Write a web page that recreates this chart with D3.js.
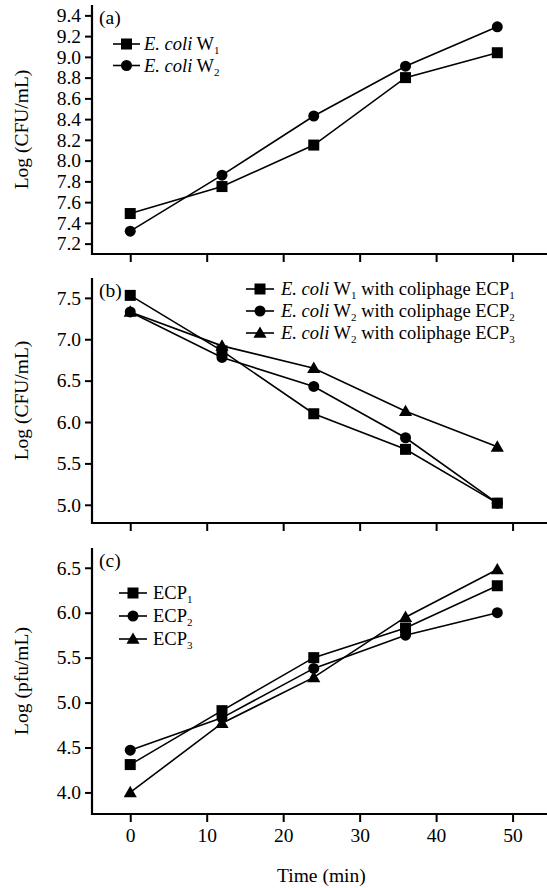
<!DOCTYPE html>
<html>
<head>
<meta charset="utf-8">
<script src="https://cdn.jsdelivr.net/npm/d3@7"></script>
<style>
  body { margin: 0; background: #fff; }
  svg text { font-family: "Liberation Serif", "Times New Roman", serif; fill: #000; }
</style>
</head>
<body>
<div id="graphContainer"></div>
<script>
// sampling times (min)
const times = [0, 12, 24, 36, 48];
const xTicks = [0, 10, 20, 30, 40, 50];

// (a) host growth
const aW1 = [7.49, 7.75, 8.15, 8.80, 9.04];
const aW2 = [7.32, 7.86, 8.43, 8.91, 9.29];
const aTicks = [7.2, 7.4, 7.6, 7.8, 8.0, 8.2, 8.4, 8.6, 8.8, 9.0, 9.2, 9.4];

// (b) host with coliphage
const bW1ECP1 = [7.53, 6.86, 6.10, 5.67, 5.02];
const bW2ECP2 = [7.33, 6.78, 6.43, 5.81, 5.02];
const bW2ECP3 = [7.33, 6.92, 6.65, 6.13, 5.70];
const bTicks = [5.0, 5.5, 6.0, 6.5, 7.0, 7.5];

// (c) phage titre
const cECP1 = [4.31, 4.91, 5.50, 5.83, 6.30];
const cECP2 = [4.47, 4.83, 5.38, 5.75, 6.00];
const cECP3 = [4.00, 4.77, 5.28, 5.95, 6.48];
const cTicks = [4.0, 4.5, 5.0, 5.5, 6.0, 6.5];

const width = 547, height = 888;
const svg = d3.select("#graphContainer").append("svg")
  .attr("width", width).attr("height", height);

const x = d3.scaleLinear().domain([-5, 54.5]).range([92, 547]);

// legend labels: [text, kind] where kind = true (italic), false (roman) or "sub"
const panels = [
  {
    tag: "(a)", title: "Log (CFU/mL)", top: 5, bottom: 254,
    domain: [7.1, 9.5], ticks: aTicks,
    series: [
      { values: aW1, shape: "square", label: [["E. coli", true], [" W", false], ["1", "sub"]] },
      { values: aW2, shape: "circle", label: [["E. coli", true], [" W", false], ["2", "sub"]] }
    ],
    legend: { x1: 113, x2: 140, tx: 144, y0: 44, dy: 21.5 }
  },
  {
    tag: "(b)", title: "Log (CFU/mL)", top: 278, bottom: 523,
    domain: [4.78, 7.74], ticks: bTicks,
    series: [
      { values: bW1ECP1, shape: "square", label: [["E. coli", true], [" W", false], ["1", "sub"], [" with coliphage ECP", false], ["1", "sub"]] },
      { values: bW2ECP2, shape: "circle", label: [["E. coli", true], [" W", false], ["2", "sub"], [" with coliphage ECP", false], ["2", "sub"]] },
      { values: bW2ECP3, shape: "triangle", label: [["E. coli", true], [" W", false], ["2", "sub"], [" with coliphage ECP", false], ["3", "sub"]] }
    ],
    legend: { x1: 246, x2: 274, tx: 281, y0: 289, dy: 22 }
  },
  {
    tag: "(c)", title: "Log (pfu/mL)", top: 548, bottom: 814,
    domain: [3.76, 6.72], ticks: cTicks,
    series: [
      { values: cECP1, shape: "square", label: [["ECP", false], ["1", "sub"]] },
      { values: cECP2, shape: "circle", label: [["ECP", false], ["2", "sub"]] },
      { values: cECP3, shape: "triangle", label: [["ECP", false], ["3", "sub"]] }
    ],
    legend: { x1: 119, x2: 147, tx: 153, y0: 593, dy: 23 }
  }
];

function drawMarker(g, shape, cx, cy) {
  if (shape === "square") {
    g.append("rect").attr("x", cx - 5.5).attr("y", cy - 5.5)
      .attr("width", 11).attr("height", 11).attr("fill", "#000");
  } else if (shape === "circle") {
    g.append("circle").attr("cx", cx).attr("cy", cy).attr("r", 5.5).attr("fill", "#000");
  } else {
    g.append("path")
      .attr("d", d3.symbol().type(d3.symbolTriangle).size(75)())
      .attr("transform", `translate(${cx},${cy + 1})`)
      .attr("fill", "#000");
  }
}

panels.forEach((p, i) => {
  const y = d3.scaleLinear().domain(p.domain).range([p.bottom, p.top]);
  const g = svg.append("g");

  // y axis
  const yAxis = g.append("g")
    .attr("transform", `translate(${x.range()[0]},0)`)
    .call(d3.axisLeft(y).tickValues(p.ticks).tickFormat(d3.format(".1f"))
      .tickSize(7).tickPadding(4).tickSizeOuter(0));
  yAxis.select(".domain").remove();
  yAxis.selectAll(".tick line").attr("stroke", "#000").attr("stroke-width", 2);
  yAxis.selectAll(".tick text").style("font-size", "19.5px").style("font-family", "Liberation Serif");

  // x axis, labels only on the last panel
  const xAxis = g.append("g")
    .attr("transform", `translate(0,${p.bottom})`)
    .call(d3.axisBottom(x).tickValues(xTicks).tickSize(8).tickPadding(6).tickFormat(d3.format("d")));
  xAxis.select(".domain").remove();
  xAxis.selectAll(".tick line").attr("stroke", "#000").attr("stroke-width", 2);
  if (i === 2) {
    xAxis.selectAll(".tick text").style("font-size", "19.5px").style("font-family", "Liberation Serif");
  } else {
    xAxis.selectAll(".tick text").remove();
  }

  // axis frame lines
  g.append("path")
    .attr("d", `M${x.range()[0]},${p.top}V${p.bottom}H${width}`)
    .attr("fill", "none").attr("stroke", "#000").attr("stroke-width", 2.2);

  // y title
  g.append("text")
    .attr("transform", `translate(28,${(p.top + p.bottom) / 2}) rotate(-90)`)
    .attr("text-anchor", "middle")
    .style("font-size", "19.5px")
    .text(p.title);

  // panel tag
  g.append("text").attr("x", 99).attr("y", p.top + 19)
    .style("font-size", "19.5px").text(p.tag);

  const line = d3.line().x((d, k) => x(times[k])).y((d) => y(d));

  p.series.forEach((s, k) => {
    g.append("path").datum(s.values)
      .attr("d", line)
      .attr("fill", "none").attr("stroke", "#000").attr("stroke-width", 1.6);
    s.values.forEach((v, j) => drawMarker(g, s.shape, x(times[j]), y(v)));

    // legend row
    const ly = p.legend.y0 + k * p.legend.dy;
    g.append("line")
      .attr("x1", p.legend.x1).attr("x2", p.legend.x2)
      .attr("y1", ly).attr("y2", ly)
      .attr("stroke", "#000").attr("stroke-width", 1.6);
    drawMarker(g, s.shape, (p.legend.x1 + p.legend.x2) / 2, ly);

    const t = g.append("text").attr("x", p.legend.tx).attr("y", ly + 6)
      .style("font-size", "18.5px");
    let shift = 0;
    s.label.forEach(([str, kind]) => {
      const ts = t.append("tspan").text(str);
      if (kind === "sub") {
        ts.attr("dy", 4).style("font-size", "11px");
        shift = 4;
      } else {
        ts.style("font-style", kind ? "italic" : "normal");
        if (shift) { ts.attr("dy", -shift); shift = 0; }
      }
    });
  });
});

// x title
svg.append("text")
  .attr("x", x(25)).attr("y", 882)
  .attr("text-anchor", "middle")
  .style("font-size", "19.5px")
  .text("Time (min)");
</script>
</body>
</html>
